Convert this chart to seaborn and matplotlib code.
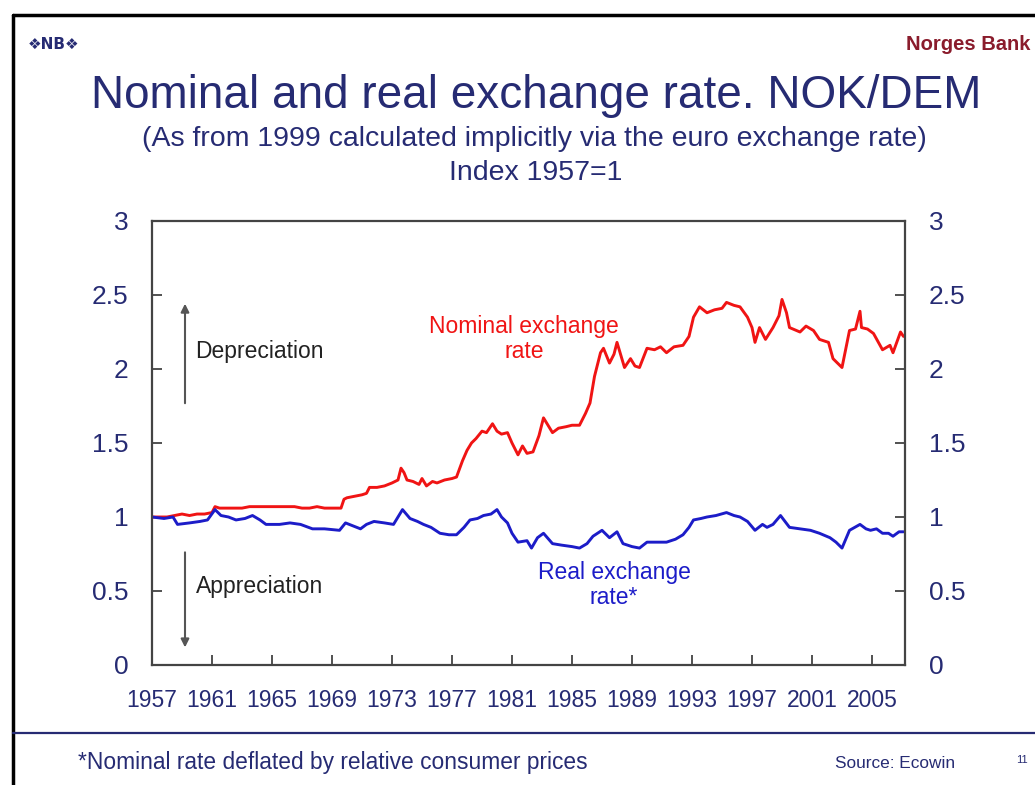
import matplotlib
matplotlib.use("Agg")
import matplotlib.pyplot as plt
from matplotlib.lines import Line2D
import seaborn as sns
import pandas as pd

# ---------------- data ----------------
nominal_year = [1957.0, 1957.5, 1958.0, 1958.5, 1959.0, 1959.5, 1960.0, 1960.5, 1961.0, 1961.2,
                1961.5, 1962.0, 1962.5, 1963.0, 1963.5, 1964.0, 1964.5, 1965.0, 1966.0, 1966.5,
                1967.0, 1967.5, 1968.0, 1968.5, 1969.0, 1969.6, 1969.8, 1970.0, 1970.5, 1971.0,
                1971.3, 1971.5, 1972.0, 1972.5, 1973.0, 1973.4, 1973.6, 1973.8, 1974.0, 1974.4,
                1974.8, 1975.0, 1975.3, 1975.7, 1976.0, 1976.5, 1977.0, 1977.3, 1977.7, 1978.0,
                1978.3, 1978.6, 1979.0, 1979.3, 1979.7, 1980.0, 1980.3, 1980.7, 1981.0, 1981.4,
                1981.7, 1982.0, 1982.4, 1982.8, 1983.1, 1983.4, 1983.7, 1984.1, 1984.6, 1985.0,
                1985.5, 1985.9, 1986.2, 1986.5, 1986.9, 1987.1, 1987.5, 1987.8, 1988.0, 1988.5,
                1988.9, 1989.2, 1989.5, 1990.0, 1990.5, 1990.9, 1991.3, 1991.8, 1992.4, 1992.8,
                1993.1, 1993.5, 1994.0, 1994.5, 1995.0, 1995.3, 1995.8, 1996.2, 1996.7, 1997.0,
                1997.2, 1997.5, 1997.9, 1998.4, 1998.8, 1999.0, 1999.3, 1999.5, 2000.2, 2000.6,
                2001.1, 2001.5, 2002.1, 2002.4, 2003.0, 2003.5, 2003.9, 2004.2, 2004.3, 2004.7,
                2005.1, 2005.7, 2006.2, 2006.4, 2006.9, 2007.1]
nominal_value = [1.00, 1.00, 1.00, 1.01, 1.02, 1.01, 1.02, 1.02, 1.03, 1.07,
                 1.06, 1.06, 1.06, 1.06, 1.07, 1.07, 1.07, 1.07, 1.07, 1.07,
                 1.06, 1.06, 1.07, 1.06, 1.06, 1.06, 1.12, 1.13, 1.14, 1.15,
                 1.16, 1.20, 1.20, 1.21, 1.23, 1.25, 1.33, 1.30, 1.25, 1.24,
                 1.22, 1.26, 1.21, 1.24, 1.23, 1.25, 1.26, 1.27, 1.38, 1.45,
                 1.50, 1.53, 1.58, 1.57, 1.63, 1.58, 1.56, 1.57, 1.50, 1.42,
                 1.48, 1.43, 1.44, 1.55, 1.67, 1.62, 1.57, 1.60, 1.61, 1.62,
                 1.62, 1.70, 1.77, 1.95, 2.11, 2.14, 2.04, 2.10, 2.18, 2.01,
                 2.07, 2.02, 2.01, 2.14, 2.13, 2.15, 2.11, 2.15, 2.16, 2.22,
                 2.35, 2.42, 2.38, 2.40, 2.41, 2.45, 2.43, 2.42, 2.35, 2.28,
                 2.18, 2.28, 2.20, 2.28, 2.36, 2.47, 2.38, 2.28, 2.25, 2.29,
                 2.26, 2.20, 2.18, 2.07, 2.01, 2.26, 2.27, 2.39, 2.28, 2.27,
                 2.24, 2.13, 2.16, 2.11, 2.25, 2.22]

real_year = [1957.0, 1957.8, 1958.4, 1958.7, 1959.5, 1960.2, 1960.7, 1961.2, 1961.6, 1962.1,
             1962.6, 1963.2, 1963.7, 1964.2, 1964.6, 1965.5, 1966.2, 1966.9, 1967.7, 1968.5,
             1969.5, 1969.9, 1970.4, 1970.9, 1971.3, 1971.8, 1972.5, 1973.1, 1973.7, 1974.2,
             1974.7, 1975.1, 1975.6, 1976.2, 1976.8, 1977.3, 1977.8, 1978.2, 1978.7, 1979.1,
             1979.6, 1980.0, 1980.3, 1980.7, 1981.0, 1981.4, 1982.0, 1982.3, 1982.7, 1983.1,
             1983.7, 1984.3, 1985.0, 1985.5, 1986.0, 1986.4, 1987.0, 1987.5, 1988.0, 1988.4,
             1989.0, 1989.5, 1990.0, 1990.7, 1991.3, 1991.9, 1992.4, 1992.8, 1993.1, 1993.6,
             1994.0, 1994.6, 1995.3, 1995.8, 1996.2, 1996.7, 1997.2, 1997.7, 1998.0, 1998.4,
             1998.9, 1999.2, 1999.5, 2000.2, 2000.9, 2001.5, 2002.2, 2002.6, 2003.0, 2003.5,
             2004.2, 2004.6, 2004.9, 2005.3, 2005.7, 2006.1, 2006.4, 2006.8, 2007.1]
real_value = [1.00, 0.99, 1.00, 0.95, 0.96, 0.97, 0.98, 1.05, 1.01, 1.00,
              0.98, 0.99, 1.01, 0.98, 0.95, 0.95, 0.96, 0.95, 0.92, 0.92,
              0.91, 0.96, 0.94, 0.92, 0.95, 0.97, 0.96, 0.95, 1.05, 0.99,
              0.97, 0.95, 0.93, 0.89, 0.88, 0.88, 0.93, 0.98, 0.99, 1.01,
              1.02, 1.05, 1.00, 0.96, 0.89, 0.83, 0.84, 0.79, 0.86, 0.89,
              0.82, 0.81, 0.80, 0.79, 0.82, 0.87, 0.91, 0.86, 0.90, 0.82,
              0.80, 0.79, 0.83, 0.83, 0.83, 0.85, 0.88, 0.93, 0.98, 0.99,
              1.00, 1.01, 1.03, 1.01, 1.00, 0.97, 0.91, 0.95, 0.93, 0.95,
              1.01, 0.97, 0.93, 0.92, 0.91, 0.89, 0.86, 0.83, 0.79, 0.91,
              0.95, 0.92, 0.91, 0.92, 0.89, 0.89, 0.87, 0.90, 0.90]

x_ticks = [1957, 1961, 1965, 1969, 1973, 1977, 1981, 1985, 1989, 1993, 1997, 2001, 2005]
y_ticks = [0, 0.5, 1, 1.5, 2, 2.5, 3]
y_tick_labels = ["0", "0.5", "1", "1.5", "2", "2.5", "3"]

title = "Nominal and real exchange rate. NOK/DEM"
subtitle1 = "(As from 1999 calculated implicitly via the euro exchange rate)"
subtitle2 = "Index 1957=1"

# ---------------- style ----------------
sns.set_style("ticks")
plt.rcParams["font.family"] = ["Liberation Sans", "DejaVu Sans"]

NAVY = "#262b73"
RED = "#f01414"
BLUE = "#1c1cc8"
W, H = 1035, 785

fig = plt.figure(figsize=(W / 100, H / 100), dpi=100)
fig.patch.set_facecolor("white")

def fx(px):
    return px / W

def fy(py):
    return 1 - py / H

ax = fig.add_axes([fx(152), fy(665), fx(905) - fx(152), fy(221) - fy(665)])

nom_df = pd.DataFrame({"year": nominal_year, "value": nominal_value})
real_df = pd.DataFrame({"year": real_year, "value": real_value})
sns.lineplot(data=nom_df, x="year", y="value", ax=ax, color=RED, linewidth=2.1, estimator=None)
sns.lineplot(data=real_df, x="year", y="value", ax=ax, color=BLUE, linewidth=2.1, estimator=None)

ax.set_xlim(1957, 2007.2)
ax.set_ylim(0, 3)
ax.set_xlabel("")
ax.set_ylabel("")
ax.set_xticks(x_ticks)
ax.set_xticklabels([str(v) for v in x_ticks], fontsize=16.5, color=NAVY)
ax.set_yticks(y_ticks)
ax.set_yticklabels(y_tick_labels, fontsize=19, color=NAVY)
ax.tick_params(axis="y", direction="in", length=7, width=1.2, left=True, right=True,
               labelleft=True, labelright=True, pad=17, color="#333333")
ax.tick_params(axis="x", direction="in", length=7, width=1.2, pad=17, color="#333333")
for side in ["left", "right", "top", "bottom"]:
    ax.spines[side].set_visible(True)
    ax.spines[side].set_color("#444444")
    ax.spines[side].set_linewidth(1.6)

# annotations
ax.text(1981.8, 2.2, "Nominal exchange\nrate", color=RED, fontsize=16.5, ha="center", va="center",
        linespacing=1.1)
ax.text(1987.8, 0.54, "Real exchange\nrate*", color=BLUE, fontsize=16.5, ha="center", va="center",
        linespacing=1.15)
ax.text(1959.9, 2.12, "Depreciation", color="#222222", fontsize=16.5, ha="left", va="center")
ax.text(1959.9, 0.53, "Appreciation", color="#222222", fontsize=16.5, ha="left", va="center")
ax.annotate("", xy=(1959.2, 2.46), xytext=(1959.2, 1.75),
            arrowprops=dict(arrowstyle="-|>", color="#555555", lw=1.5, mutation_scale=12))
ax.annotate("", xy=(1959.2, 0.1), xytext=(1959.2, 0.78),
            arrowprops=dict(arrowstyle="-|>", color="#555555", lw=1.5, mutation_scale=12))

# titles
fig.text(fx(536), fy(96), title, color=NAVY, fontsize=33, ha="center", va="center")
fig.text(fx(534), fy(139), subtitle1, color=NAVY, fontsize=20.5, ha="center", va="center")
fig.text(fx(536), fy(173), subtitle2, color=NAVY, fontsize=20.5, ha="center", va="center")

# slide decorations
fig.text(fx(28), fy(44), "❖NB❖", color=NAVY, fontsize=11, fontweight="bold", ha="left", va="center",
         family=["DejaVu Sans"])
fig.text(fx(1030), fy(44), "Norges Bank", color="#8a1c2c", fontsize=14.5, fontweight="bold",
         ha="right", va="center")
fig.add_artist(Line2D([fx(13), 1], [fy(15), fy(15)], color="black", lw=2.5))
fig.add_artist(Line2D([fx(13), fx(13)], [fy(15), 0], color="black", lw=2.5))
fig.add_artist(Line2D([fx(13), 1], [fy(733), fy(733)], color=NAVY, lw=1.6))
fig.text(fx(78), fy(762), "*Nominal rate deflated by relative consumer prices", color=NAVY,
         fontsize=16.4, ha="left", va="center")
fig.text(fx(895), fy(763), "Source: Ecowin", color=NAVY, fontsize=12.4, ha="center", va="center")
fig.text(fx(1022), fy(760), "11", color=NAVY, fontsize=8, ha="center", va="center")

fig.savefig("out.png", dpi=100)
